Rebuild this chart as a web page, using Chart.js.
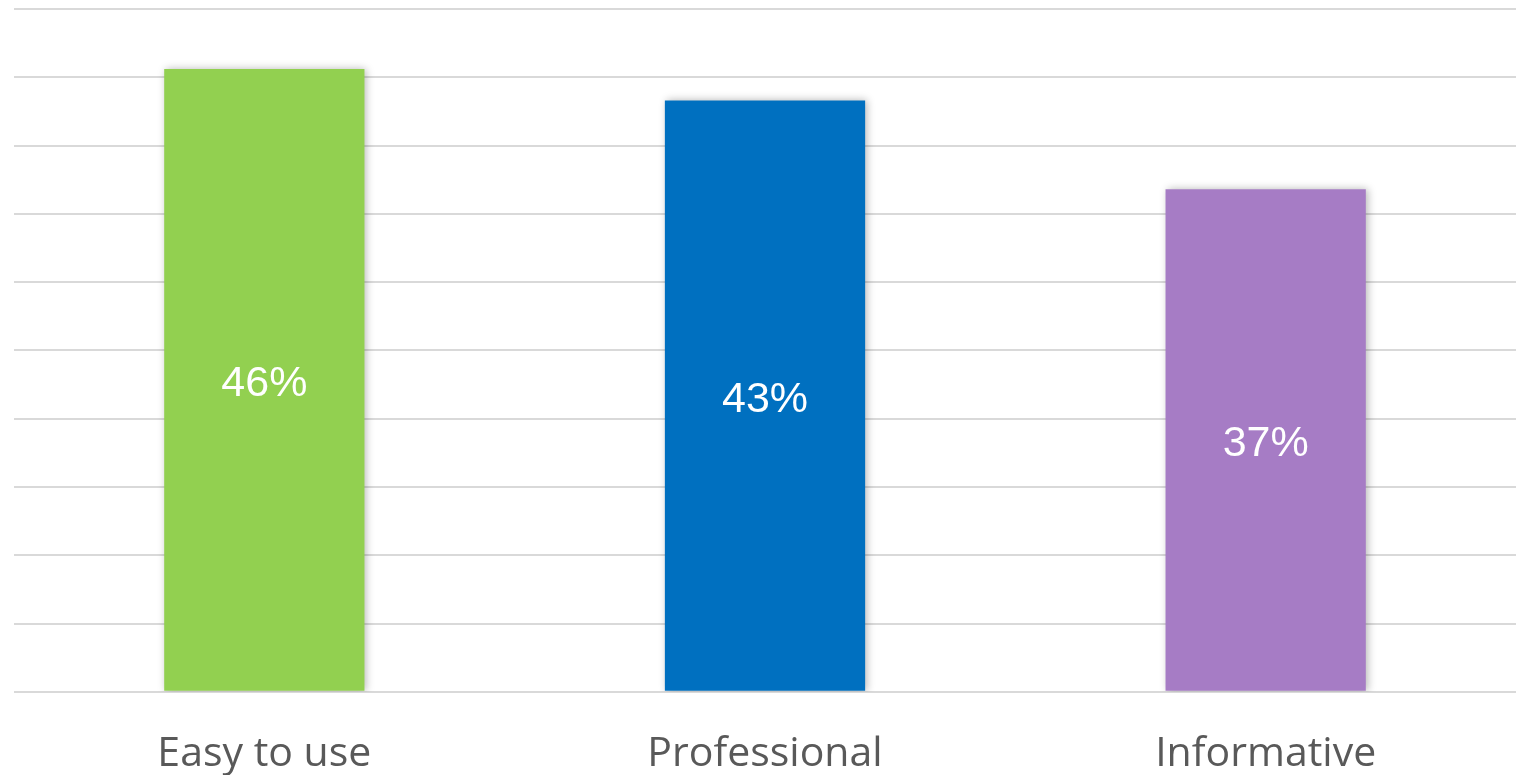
<!DOCTYPE html>
<html>
<head>
<meta charset="utf-8">
<script src="https://cdn.jsdelivr.net/npm/chart.js@4.4.0/dist/chart.umd.min.js"></script>
<style>
    html, body { margin: 0; padding: 0; background: #ffffff; }
    #wrap { width: 1527px; height: 775px; }
</style>
</head>
<body>
<div id="wrap"><canvas id="barChart" width="1527" height="775"></canvas></div>
<script>
// ─── DATA ─────────────────────────────────────────────────────
const categories = ['Easy to use', 'Professional', 'Informative'];
const values     = [45.6, 43.3, 36.8];
const barColors  = ['#92d050', '#0070c0', '#a67cc5'];
const yMax  = 50;
const yStep = 5;

// ─── PLUGINS ──────────────────────────────────────────────────
// soft shadow behind the bars
const barShadow = {
    id: 'barShadow',
    beforeDatasetsDraw(chart) {
        const ctx = chart.ctx;
        ctx.save();
        ctx.shadowColor = 'rgba(0,0,0,0.28)';
        ctx.shadowBlur = 8;
        ctx.shadowOffsetX = 2;
        ctx.shadowOffsetY = 0;
    },
    afterDatasetsDraw(chart) {
        chart.ctx.restore();
    }
};

// value labels in the middle of each bar
const barLabels = {
    id: 'barLabels',
    afterDatasetsDraw(chart) {
        const ctx = chart.ctx;
        const meta = chart.getDatasetMeta(0);
        ctx.save();
        ctx.fillStyle = '#ffffff';
        ctx.font = '43px "Liberation Sans", Arial, sans-serif';
        ctx.textAlign = 'center';
        ctx.textBaseline = 'middle';
        meta.data.forEach((bar, i) => {
            const mid = (bar.y + bar.base) / 2;
            ctx.fillText(Math.round(values[i]) + '%', bar.x, mid + 4);
        });
        ctx.restore();
    }
};

// ─── CHART ────────────────────────────────────────────────────
new Chart(document.getElementById('barChart'), {
    type: 'bar',
    data: {
        labels: categories,
        datasets: [{
            data: values,
            backgroundColor: barColors,
            barPercentage: 0.4,
            categoryPercentage: 1.0,
            borderWidth: 0
        }]
    },
    options: {
        responsive: false,
        animation: false,
        devicePixelRatio: 1,
        layout: { padding: { left: 14, right: 11, top: 9, bottom: -34 } },
        plugins: {
            legend: { display: false },
            tooltip: { enabled: false }
        },
        scales: {
            x: {
                grid: { display: false },
                border: { display: false },
                ticks: {
                    color: '#595959',
                    font: { family: '"Open Sans", "Noto Sans", sans-serif', size: 41 },
                    padding: 30
                }
            },
            y: {
                min: 0,
                max: yMax,
                ticks: { display: false, stepSize: yStep },
                border: { display: false },
                grid: { color: '#d9d9d9', lineWidth: 2, drawTicks: false }
            }
        }
    },
    plugins: [barShadow, barLabels]
});
</script>
</body>
</html>
